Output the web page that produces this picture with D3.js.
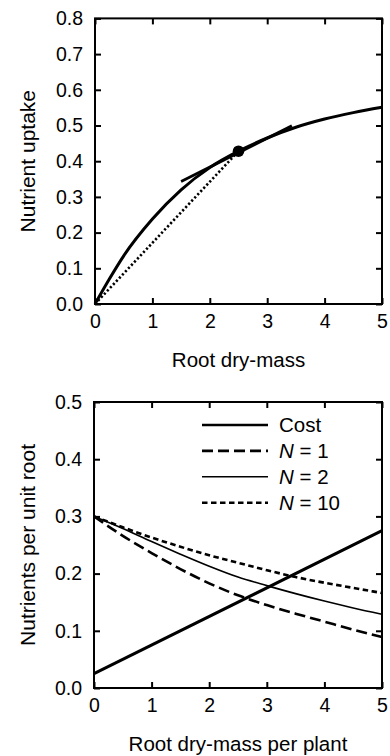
<!DOCTYPE html>
<html>
<head>
<meta charset="utf-8">
<script src="https://cdn.jsdelivr.net/npm/d3@7"></script>
<style>
  body { margin: 0; background: #fff; }
  svg { display: block; font-family: "Liberation Sans", Arial, Helvetica, sans-serif; }
  .tick text { font-size: 19.5px; fill: #000; }
  .tick line { stroke: #000; stroke-width: 2; }
</style>
</head>
<body>
<svg width="390" height="756"></svg>
<script>
// top panel: uptake curve, tangent, chord to origin
var uptakeX = [0, 0.25, 0.5, 1, 1.5, 2, 2.5, 3, 3.5, 4, 4.5, 5];
var uptakeY = [0, 0.070, 0.135, 0.238, 0.320, 0.382, 0.428, 0.465, 0.495, 0.518, 0.536, 0.551];
var tangentX = [1.5, 3.43];
var tangentY = [0.343, 0.499];
var chordX = [0, 2.5];
var chordY = [0, 0.428];
var pointX = 2.5, pointY = 0.428;

// bottom panel: nutrients per unit root
var massX = [0, 0.5, 1, 1.5, 2, 2.5, 3, 3.5, 4, 4.5, 5];
var n1 = [0.300, 0.266, 0.236, 0.208, 0.183, 0.162, 0.145, 0.130, 0.116, 0.102, 0.089];
var n2 = [0.300, 0.279, 0.256, 0.234, 0.213, 0.194, 0.179, 0.165, 0.152, 0.140, 0.129];
var n10 = [0.300, 0.281, 0.263, 0.247, 0.232, 0.219, 0.206, 0.194, 0.184, 0.175, 0.166];
var costX = [0, 5];
var cost = [0.025, 0.275];
var legendLabels = ["Cost", "N = 1", "N = 2", "N = 10"];

var xTicks = [0, 1, 2, 3, 4, 5];
var yTicksTop = [0, 0.1, 0.2, 0.3, 0.4, 0.5, 0.6, 0.7, 0.8];
var yTicksBot = [0, 0.1, 0.2, 0.3, 0.4, 0.5];

var svg = d3.select("svg");

function zip(xs, ys) {
    return xs.map(function (x, i) { return [x, ys[i]]; });
}

function panel(x, y, yTicks, xTitle, yTitle) {
    var g = svg.append("g");
    var x0 = x.range()[0], x1 = x.range()[1], y0 = y.range()[0], y1 = y.range()[1];

    g.append("g").attr("transform", "translate(0," + y0 + ")")
        .call(d3.axisBottom(x).tickValues(xTicks).tickSizeInner(-6).tickSizeOuter(0).tickPadding(10).tickFormat(d3.format("d")));
    g.append("g").attr("transform", "translate(0," + y1 + ")")
        .call(d3.axisTop(x).tickValues(xTicks).tickSizeInner(-6).tickSizeOuter(0).tickFormat(""));
    g.append("g").attr("transform", "translate(" + x0 + ",0)")
        .call(d3.axisLeft(y).tickValues(yTicks).tickSizeInner(-6).tickSizeOuter(0).tickPadding(12).tickFormat(d3.format(".1f")));
    g.append("g").attr("transform", "translate(" + x1 + ",0)")
        .call(d3.axisRight(y).tickValues(yTicks).tickSizeInner(-6).tickSizeOuter(0).tickFormat(""));
    g.selectAll(".domain").remove();

    g.append("rect")
        .attr("x", x0).attr("y", y1)
        .attr("width", x1 - x0).attr("height", y0 - y1)
        .attr("fill", "none").attr("stroke", "#000").attr("stroke-width", 2);

    g.append("text")
        .attr("x", (x0 + x1) / 2).attr("y", y0 + 63)
        .attr("text-anchor", "middle").attr("font-size", 20.5)
        .text(xTitle);
    g.append("text")
        .attr("transform", "translate(35," + (y0 + y1) / 2 + ") rotate(-90)")
        .attr("text-anchor", "middle").attr("font-size", 21)
        .text(yTitle);
    return g;
}

// ---- top ----
var xT = d3.scaleLinear().domain([0, 5]).range([95, 382]);
var yT = d3.scaleLinear().domain([0, 0.8]).range([304, 18.4]);
var gT = panel(xT, yT, yTicksTop, "Root dry-mass", "Nutrient uptake");

var lineT = d3.line().x(function (d) { return xT(d[0]); }).y(function (d) { return yT(d[1]); });

gT.append("path").datum(zip(chordX, chordY))
    .attr("d", lineT).attr("fill", "none").attr("stroke", "#000")
    .attr("stroke-width", 2.6).attr("stroke-dasharray", "2.2,2.2");
gT.append("path").datum(zip(uptakeX, uptakeY))
    .attr("d", lineT.curve(d3.curveMonotoneX)).attr("fill", "none").attr("stroke", "#000")
    .attr("stroke-width", 3);
lineT.curve(d3.curveLinear);
gT.append("path").datum(zip(tangentX, tangentY))
    .attr("d", lineT).attr("fill", "none").attr("stroke", "#000")
    .attr("stroke-width", 2.8);
gT.append("circle")
    .attr("cx", xT(pointX)).attr("cy", yT(pointY)).attr("r", 5.8).attr("fill", "#000");

// ---- bottom ----
var xB = d3.scaleLinear().domain([0, 5]).range([94, 382]);
var yB = d3.scaleLinear().domain([0, 0.5]).range([688, 402]);
var gB = panel(xB, yB, yTicksBot, "Root dry-mass per plant", "Nutrients per unit root");

var lineB = d3.line().x(function (d) { return xB(d[0]); }).y(function (d) { return yB(d[1]); })
    .curve(d3.curveMonotoneX);

var styles = [
    { w: 3, dash: null },
    { w: 2.6, dash: "11,5" },
    { w: 1.6, dash: null },
    { w: 2.6, dash: "5.5,3.5" }
];
var series = [zip(costX, cost), zip(massX, n1), zip(massX, n2), zip(massX, n10)];

gB.selectAll(".series").data(series).enter().append("path")
    .attr("class", "series")
    .attr("d", lineB).attr("fill", "none").attr("stroke", "#000")
    .attr("stroke-width", function (d, i) { return styles[i].w; })
    .attr("stroke-dasharray", function (d, i) { return styles[i].dash; });

var leg = gB.selectAll(".leg").data(legendLabels).enter().append("g")
    .attr("class", "leg")
    .attr("transform", function (d, i) { return "translate(202," + (425 + i * 25.9) + ")"; });
leg.append("line")
    .attr("x1", 0).attr("x2", 66).attr("stroke", "#000")
    .attr("stroke-width", function (d, i) { return styles[i].w === 3 ? 2.4 : styles[i].w; })
    .attr("stroke-dasharray", function (d, i) { return styles[i].dash; });
var lt = leg.append("text").attr("x", 77).attr("dy", "0.36em").attr("font-size", 20.5);
lt.each(function (d) {
    var t = d3.select(this);
    if (d.charAt(0) === "N") {
        t.append("tspan").attr("font-style", "italic").text("N");
        t.append("tspan").text(d.slice(1));
    } else {
        t.text(d);
    }
});
</script>
</body>
</html>
